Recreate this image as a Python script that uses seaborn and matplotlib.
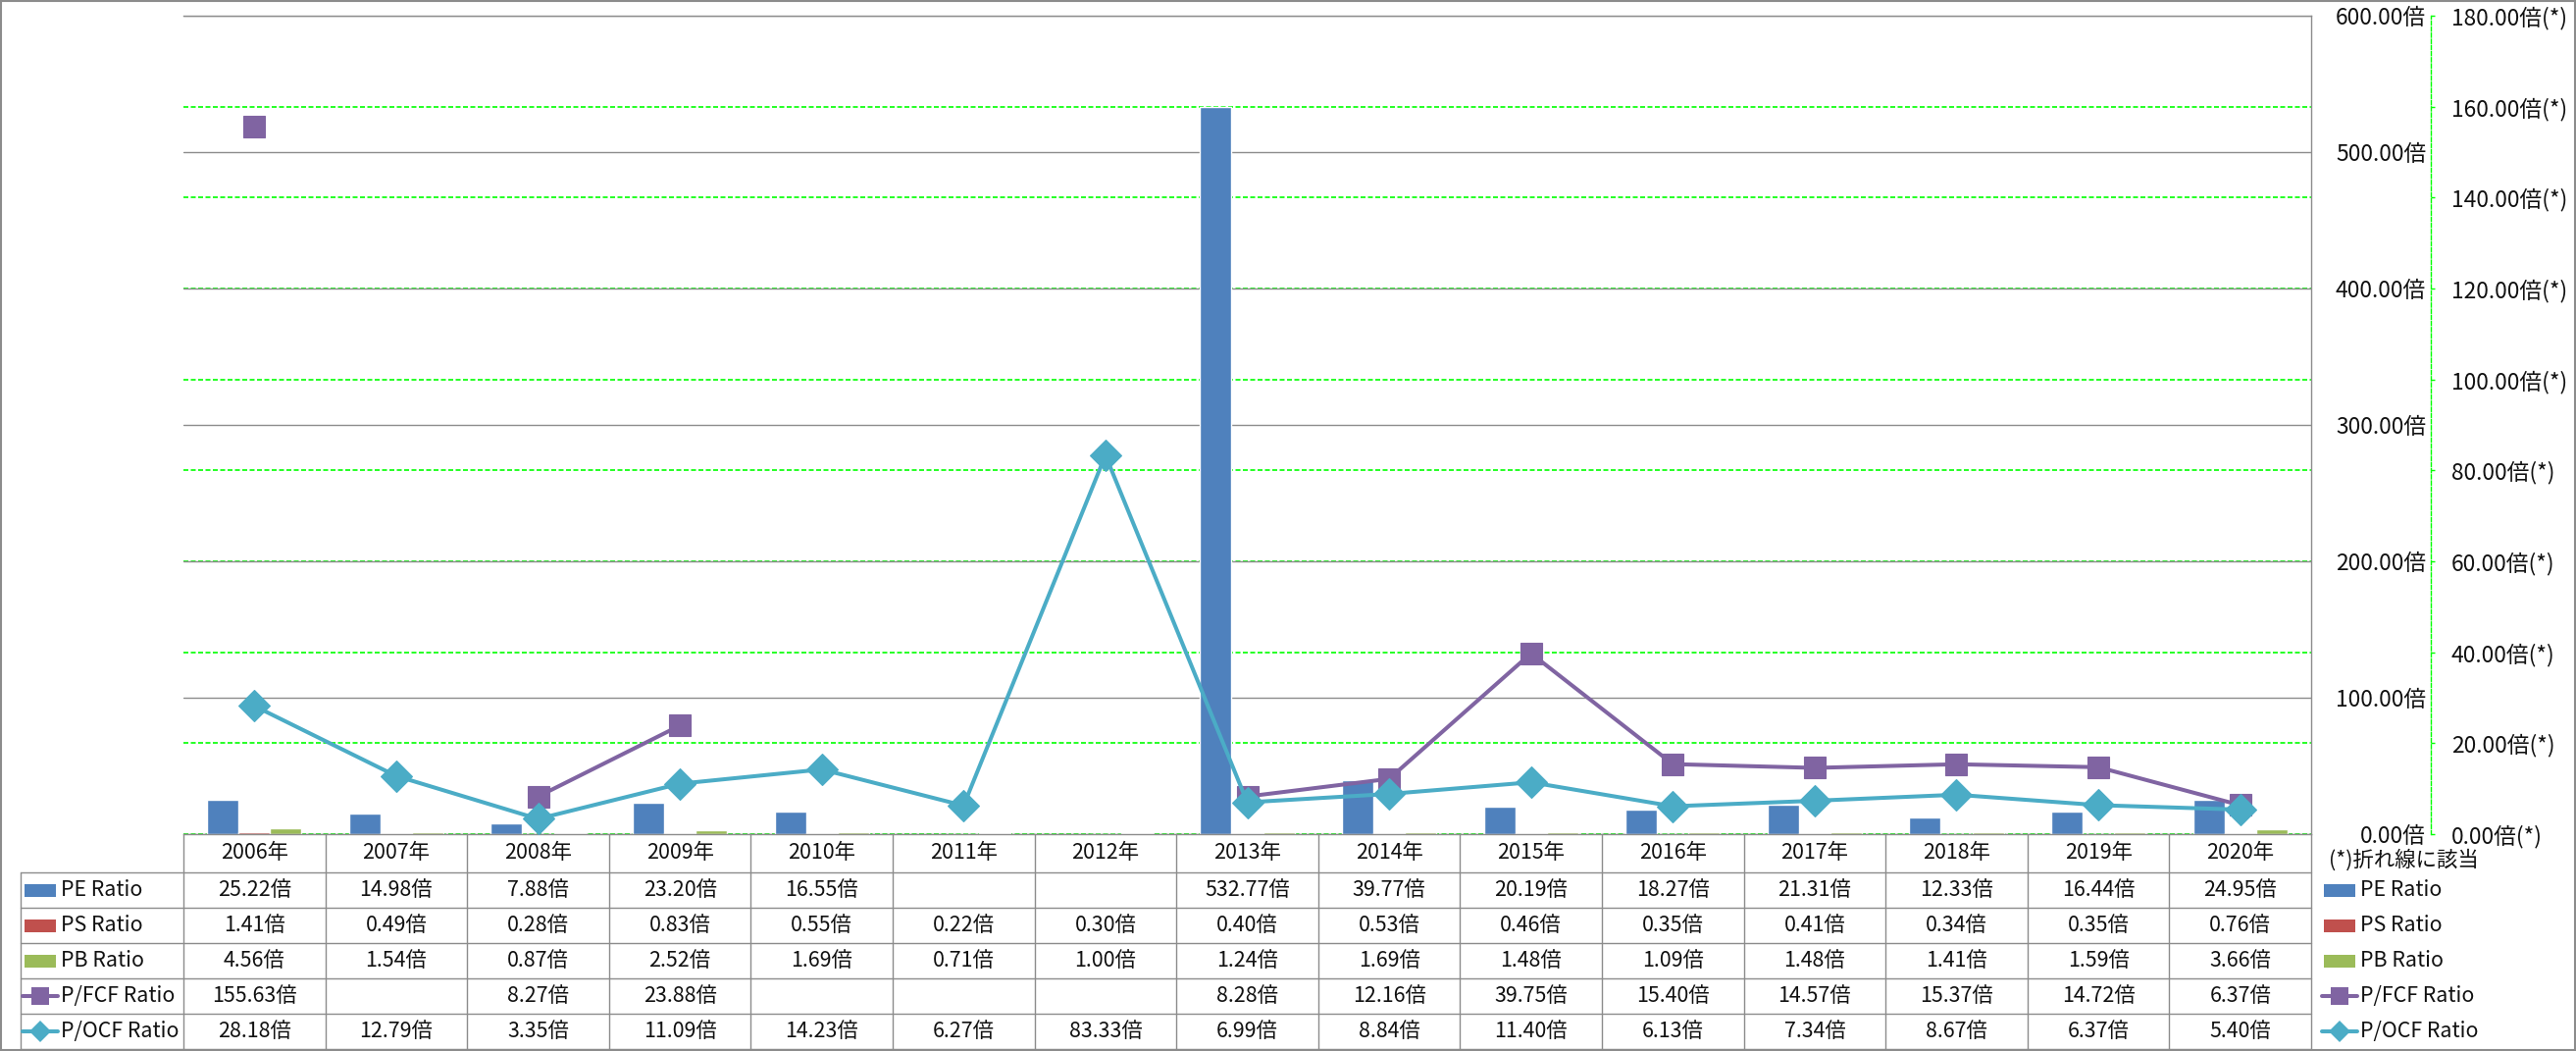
import numpy as np
import pandas as pd
import matplotlib
matplotlib.use('Agg')
import matplotlib.pyplot as plt
import matplotlib.transforms as mtransforms
from matplotlib.patches import Rectangle
import seaborn as sns

nan = np.nan
years = ['2006年', '2007年', '2008年', '2009年', '2010年', '2011年', '2012年', '2013年',
         '2014年', '2015年', '2016年', '2017年', '2018年', '2019年', '2020年']
pe_ratio = [25.22, 14.98, 7.88, 23.20, 16.55, nan, nan, 532.77, 39.77, 20.19, 18.27, 21.31, 12.33, 16.44, 24.95]
ps_ratio = [1.41, 0.49, 0.28, 0.83, 0.55, 0.22, 0.30, 0.40, 0.53, 0.46, 0.35, 0.41, 0.34, 0.35, 0.76]
pb_ratio = [4.56, 1.54, 0.87, 2.52, 1.69, 0.71, 1.00, 1.24, 1.69, 1.48, 1.09, 1.48, 1.41, 1.59, 3.66]
pfcf_ratio = [155.63, nan, 8.27, 23.88, nan, nan, nan, 8.28, 12.16, 39.75, 15.40, 14.57, 15.37, 14.72, 6.37]
pocf_ratio = [28.18, 12.79, 3.35, 11.09, 14.23, 6.27, 83.33, 6.99, 8.84, 11.40, 6.13, 7.34, 8.67, 6.37, 5.40]

bar_names = ['PE Ratio', 'PS Ratio', 'PB Ratio']
line_names = ['P/FCF Ratio', 'P/OCF Ratio']
bar_colors = ['#4F81BD', '#C0504D', '#9BBB59']
line_colors = ['#8064A2', '#4BACC6']
line_markers = ['s', 'D']
primary_ticks = [0, 100, 200, 300, 400, 500, 600]
secondary_ticks = [0, 20, 40, 60, 80, 100, 120, 140, 160, 180]

sns.set_style('white')
plt.rcParams['font.family'] = ['Noto Sans CJK JP', 'DejaVu Sans']

W, H = 2626, 1071
fig = plt.figure(figsize=(W / 100, H / 100), dpi=100)
L, R, T, B = 187, 2356, 16, 850
pos = [L / W, 1 - B / H, (R - L) / W, (B - T) / H]
GRAY = '#8c8c8c'
GREEN = '#00FF00'
TFS = 15.4
AFS = 16.4
spine_off = (2478 - L) / (R - L)

# ---- green grid / secondary axis (bottom layer)
axg = fig.add_axes(pos, zorder=0)
axg.set_xlim(-0.5, 14.5)
axg.set_ylim(0, 180)
axg.set_xticks([])
axg.yaxis.tick_right()
axg.set_yticks(secondary_ticks)
axg.set_yticklabels([f'{v:.2f}倍(*)' for v in secondary_ticks])
axg.yaxis.grid(True, color=GREEN, linestyle=(0, (3, 1.5)), linewidth=1.2)
for s in ['top', 'left', 'bottom']:
    axg.spines[s].set_visible(False)
axg.spines['right'].set_position(('axes', spine_off))
axg.spines['right'].set_color(GREEN)
axg.spines['right'].set_linestyle((0, (3, 1.5)))
axg.spines['right'].set_linewidth(1.0)
axg.tick_params(axis='y', direction='out', length=3, width=1, color=GREEN, pad=12,
                labelsize=AFS, labelcolor='#111111')

# ---- bars on primary axis
ax = fig.add_axes(pos, zorder=1)
ax.patch.set_visible(False)
df = pd.DataFrame({'year': years * 3,
                   'series': sum([[n] * len(years) for n in bar_names], []),
                   'value': pe_ratio + ps_ratio + pb_ratio}).dropna()
sns.barplot(data=df, x='year', y='value', hue='series', order=years, hue_order=bar_names,
            palette=bar_colors, width=0.664, saturation=1, errorbar=None, legend=False, ax=ax)
ax.set_xlim(-0.5, 14.5)
ax.set_ylim(0, 600)
ax.set_xlabel('')
ax.set_ylabel('')
ax.set_yticks(primary_ticks)
ax.set_yticklabels([f'{v:.2f}倍' for v in primary_ticks])
ax.yaxis.grid(True, color=GRAY, linewidth=1.0)
ax.xaxis.grid(False)
ax.set_axisbelow(True)
ax.spines['left'].set_position(('axes', spine_off))
ax.spines['left'].set_visible(False)
for s in ['right', 'top', 'bottom']:
    ax.spines[s].set_color(GRAY)
    ax.spines[s].set_linewidth(1.0)
ax.tick_params(axis='y', length=0, pad=3.5, labelsize=AFS, labelcolor='#111111')
ax.set_xticks(range(len(years)))
ax.set_xticklabels(years)
for t in ax.get_xticklabels():
    t.set_verticalalignment('center')
ax.tick_params(axis='x', length=0, pad=14, labelsize=TFS, labelcolor='#111111')

# ---- lines on secondary axis
axl = ax.twinx()
axl.set_zorder(2)
axl.patch.set_visible(False)
axl.set_ylim(0, 180)
axl.set_xlim(-0.5, 14.5)
axl.set_yticks([])
for s in axl.spines.values():
    s.set_visible(False)
xs = np.arange(len(years))
for vals, c, m in zip([pfcf_ratio, pocf_ratio], line_colors, line_markers):
    axl.plot(xs, vals, color=c, linewidth=2.9, marker=m,
             markersize=(15.5 if m == 's' else 15.8), markerfacecolor=c, markeredgecolor=c,
             markeredgewidth=0.8, solid_joinstyle='round', solid_capstyle='round', clip_on=False)

# ---- data table
fy = lambda y: 1 - y / H
fx = lambda x: x / W
blend = mtransforms.blended_transform_factory(ax.transData, fig.transFigure)
row_edges = [889, 925, 961, 997, 1033, 1069]
for y in row_edges:
    fig.add_artist(plt.Line2D([fx(21), fx(R)], [fy(y), fy(y)], color=GRAY, lw=1.0))
fig.add_artist(plt.Line2D([fx(21), fx(21)], [fy(889), fy(1069)], color=GRAY, lw=1.0))
for i in range(len(years) + 1):
    ax.plot([i - 0.5, i - 0.5], [fy(B), fy(1069)], transform=blend, color=GRAY, lw=1.0, clip_on=False)

all_vals = [pe_ratio, ps_ratio, pb_ratio, pfcf_ratio, pocf_ratio]
all_names = bar_names + line_names
for r, (vals, name) in enumerate(zip(all_vals, all_names)):
    yc = (row_edges[r] + row_edges[r + 1]) / 2
    for i, v in enumerate(vals):
        if not np.isnan(v):
            ax.text(i, fy(yc), f'{v:.2f}倍', transform=blend, ha='center', va='center',
                    fontsize=TFS, color='#111111', clip_on=False)
    for kx, tx in [(25, 62), (2369, 2406)]:
        if r < 3:
            fig.add_artist(Rectangle((fx(kx), fy(yc + 6.5)), 32 / W, 13 / H,
                                     transform=fig.transFigure, color=bar_colors[r], lw=0))
        else:
            c = line_colors[r - 3]
            m = line_markers[r - 3]
            fig.add_artist(plt.Line2D([fx(kx - 2), fx(kx + 34)], [fy(yc), fy(yc)], color=c, lw=2.9,
                                      solid_capstyle='round'))
            fig.add_artist(plt.Line2D([fx(kx + 16)], [fy(yc)], color=c, marker=m,
                                      markersize=(12.5 if m == 's' else 11), markeredgewidth=0))
        fig.text(fx(tx), fy(yc), name, ha='left', va='center', fontsize=TFS, color='#111111')

fig.text(fx(2374), fy(877), '(*)折れ線に該当', ha='left', va='center', fontsize=TFS, color='#111111')

# figure border
fig.add_artist(Rectangle((0.0004, 0.0005), 0.9992, 0.999, transform=fig.transFigure,
                         fill=False, edgecolor=GRAY, lw=1.5))

fig.savefig('out.png', dpi=100)
